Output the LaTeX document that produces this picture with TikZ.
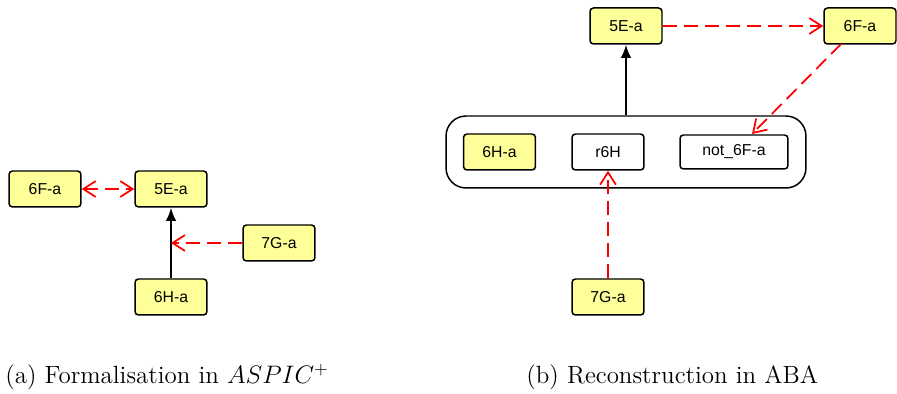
\documentclass[tikz,border=0pt]{standalone}
\usepackage{fontspec}
\newfontfamily\boxfont{Liberation Sans}
\usetikzlibrary{arrows.meta}
\definecolor{argyellow}{RGB}{255,255,153}
\tikzset{
  arg/.style={draw, line width=0.85pt, rounded corners=2pt, fill=argyellow,
    minimum width=1.44cm, minimum height=0.72cm, inner sep=0pt,
    font=\boxfont\fontsize{9pt}{10pt}\selectfont},
  plain/.style={arg, fill=white},
  attack/.style={red, line width=1pt, dash pattern=on 8pt off 4pt,
    -{Straight Barb[length=7pt,width=9pt]}},
  support/.style={black, line width=1pt, -{Latex[length=7.5pt,width=6pt]}},
  caption/.style={anchor=base west, inner sep=0pt,
    font=\fontsize{14.2pt}{16pt}\selectfont}
}
\begin{document}
\begin{tikzpicture}[x=0.02cm, y=-0.02cm]
        \useasboundingbox (0,0) rectangle (897,394);
        % (a) ASPIC+ graph
        \node[arg] (a6F) at (45,189) {6F-a};
        \node[arg] (a5E) at (171,189) {5E-a};
        \node[arg] (a7G) at (279,243) {7G-a};
        \node[arg] (a6H) at (171,297) {6H-a};
        \coordinate (amid) at (171,243);

        \draw[support] (a6H) -- (a5E);
        \draw[attack, {Straight Barb[length=7pt,width=9pt]}-{Straight Barb[length=7pt,width=9pt]}] (a6F) -- (a5E);
        \draw[attack] (a7G) -- (amid);

        % (b) ABA graph
        \node[draw, line width=0.85pt, rounded corners=0.4cm, minimum width=7.2cm,
              minimum height=1.44cm] (rule) at (626,152) {};
        \node[arg] (b6H) at (499.5,152) {6H-a};
        \node[plain] (r6H) at (608,152) {r6H};
        \node[plain, minimum width=2.16cm, minimum height=0.68cm] (not6F) at (734,152) {not\_6F-a};
        \node[arg] (b5E) at (626,26) {5E-a};
        \node[arg] (b6F) at (860,26) {6F-a};
        \node[arg] (b7G) at (608,297) {7G-a};
        \coordinate (fstart) at (841,44);
        \coordinate (fend) at (752,134);

        \draw[support] (rule.north -| b5E) -- (b5E);
        \draw[attack] (b5E) -- (b6F);
        \draw[attack] (fstart) -- (fend);
        \draw[attack] (b7G) -- (r6H);

        % captions
        \node[caption] (capa) at (5,384) {(a) Formalisation in $ASPIC^{+}$};
        \node[caption] (capb) at (526,384) {(b) Reconstruction in ABA};
\end{tikzpicture}
\end{document}
